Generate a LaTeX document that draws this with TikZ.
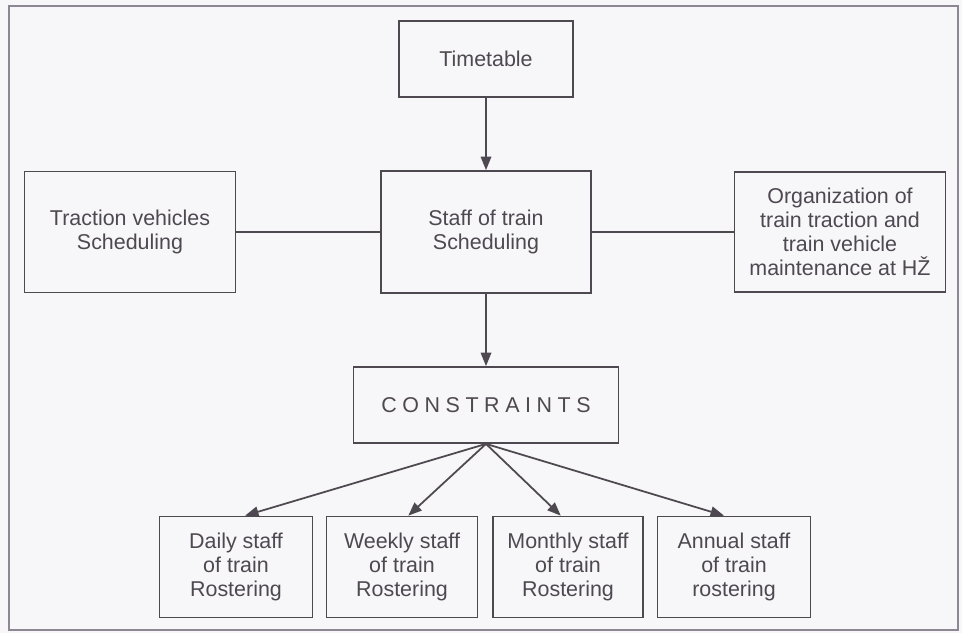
\documentclass[tikz,border=0pt]{standalone}
\usepackage{fontspec}
\setmainfont{Liberation Sans}
\newfontfamily\spacedfont[LetterSpace=26]{Liberation Sans}
\usetikzlibrary{arrows.meta}
\definecolor{ink}{HTML}{4E4950}
\definecolor{paper}{HTML}{F7F6F9}
\definecolor{rim}{HTML}{8C8792}

\begin{document}
\begin{tikzpicture}[x=0.02cm, y=-0.02cm, >={Triangle[length=0.27cm, width=0.21cm]},
    box/.style={draw=ink, line width=1pt, text=ink, align=center, inner sep=0pt,
        font=\fontsize{12.2}{13.6}\selectfont},
    link/.style={draw=ink, line width=1pt}]

    %% Background
    \fill[paper] (0,0) rectangle (962,633);
    \draw[rim, line width=0.7pt] (9,6) rectangle (958,630);

    % Top row
    \node[box, minimum width=3.48cm, minimum height=1.52cm] (timetable) at (486,59) {Timetable};
    \node[box, minimum width=4.2cm, minimum height=2.44cm] (staff) at (486,232) {Staff of train\\Scheduling};
    \node[box, minimum width=4.22cm, minimum height=2.42cm] (traction) at (130,232) {Traction vehicles\\Scheduling};
    \node[box, minimum width=4.22cm, minimum height=2.4cm] (organization) at (840,232)
        {Organization of\\train traction and\\train vehicle\\maintenance at HŽ};

    % Constraints
    \node[box, minimum width=5.3cm, minimum height=1.52cm] (constraints) at (486,405)
        {\spacedfont CONSTRAINTS};

    % Rostering
    \node[box, minimum width=3.06cm, minimum height=2.02cm] (daily) at (236,567) {Daily staff\\of train\\Rostering};
    \node[box, minimum width=3.02cm, minimum height=2.02cm] (weekly) at (402,567) {Weekly staff\\of train\\Rostering};
    \node[box, minimum width=3.0cm, minimum height=2.02cm] (monthly) at (568,567) {Monthly staff\\of train\\Rostering};
    \node[box, minimum width=3.06cm, minimum height=2.02cm] (annual) at (734,567) {Annual staff\\of train\\rostering};

    % Links
    \draw[link, ->] (timetable) -- (staff);
    \draw[link, ->] (staff) -- (constraints);
    \draw[link] (traction) -- (staff);
    \draw[link] (staff) -- (organization);

    \draw[link, ->] (constraints.south) -- (daily.80);
    \draw[link, ->] (constraints.south) -- (weekly.83);
    \draw[link, ->] (constraints.south) -- (monthly.98);
    \draw[link, ->] (constraints.south) -- (annual.101);

\end{tikzpicture}
\end{document}
